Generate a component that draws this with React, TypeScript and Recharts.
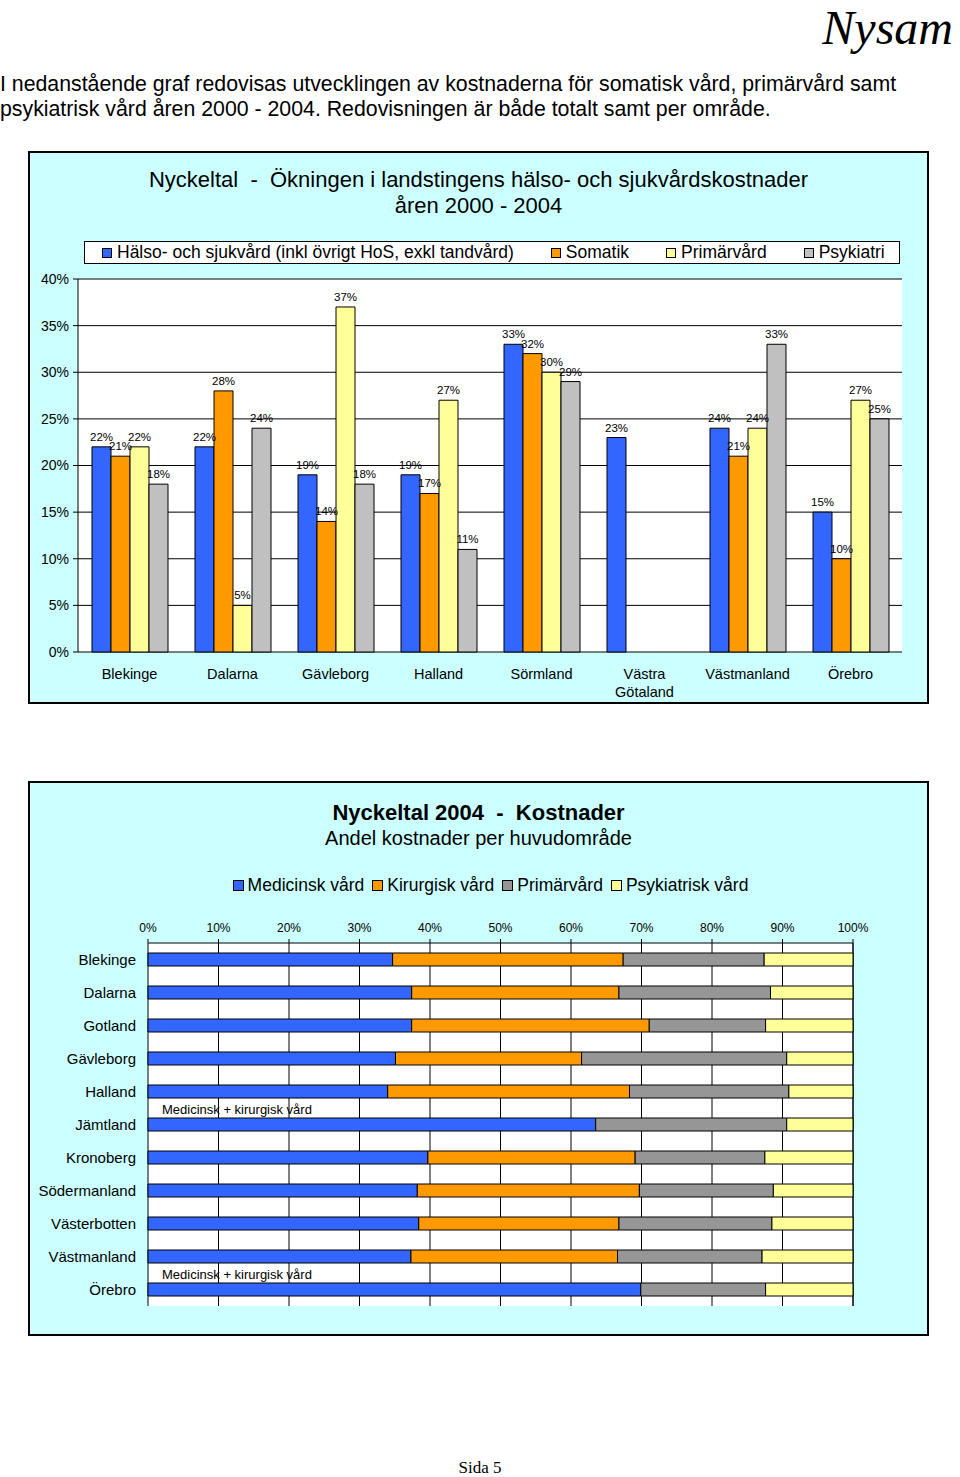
import React from 'react';
import { BarChart, Bar, XAxis, YAxis, CartesianGrid, LabelList } from 'recharts';

// Ökning 2000-2004 per landsting (procent)
const regions = ['Blekinge', 'Dalarna', 'Gävleborg', 'Halland', 'Sörmland', 'Västra Götaland', 'Västmanland', 'Örebro'];
const halsoOchSjukvard = [22, 22, 19, 19, 33, 23, 24, 15];
const somatik = [21, 28, 14, 17, 32, null, 21, 10];
const primarvard = [22, 5, 37, 27, 30, null, 24, 27];
const psykiatri = [18, 24, 18, 11, 29, null, 33, 25];
const growthTicks = [0, 5, 10, 15, 20, 25, 30, 35, 40];
const growthSeries = ['Hälso- och sjukvård (inkl övrigt HoS, exkl tandvård)', 'Somatik', 'Primärvård', 'Psykiatri'];

// Andel kostnader 2004 per huvudområde (procent)
const landsting = ['Blekinge', 'Dalarna', 'Gotland', 'Gävleborg', 'Halland', 'Jämtland', 'Kronoberg', 'Södermanland', 'Västerbotten', 'Västmanland', 'Örebro'];
const medicinsk = [34.7, 37.4, 37.4, 35.1, 34.0, 63.5, 39.7, 38.2, 38.4, 37.3, 69.9];
const kirurgisk = [32.7, 29.4, 33.7, 26.4, 34.3, 0, 29.4, 31.5, 28.4, 29.3, 0];
const primar2004 = [20.0, 21.5, 16.5, 29.1, 22.6, 27.1, 18.4, 19.0, 21.7, 20.5, 17.7];
const psykiatrisk = [12.6, 11.7, 12.4, 9.4, 9.1, 9.4, 12.5, 11.3, 11.5, 12.9, 12.4];
const notes = ['', '', '', '', '', 'Medicinsk + kirurgisk vård', '', '', '', '', 'Medicinsk + kirurgisk vård'];
const shareTicks = [0, 10, 20, 30, 40, 50, 60, 70, 80, 90, 100];
const shareSeries = ['Medicinsk vård', 'Kirurgisk vård', 'Primärvård', 'Psykiatrisk vård'];

const SANS = '"Liberation Sans", Arial, sans-serif';
const SERIF = '"Liberation Serif", "Times New Roman", serif';
const FRAME_BG = '#CCFFFF';
const growthColors = ['#3366FF', '#FF9900', '#FFFF99', '#C0C0C0'];
const shareColors = ['#3366FF', '#FF9900', '#969696', '#FFFF99'];

const growthData = regions.map((name, i) => ({
  name,
  halso: halsoOchSjukvard[i],
  somatik: somatik[i],
  primar: primarvard[i],
  psyk: psykiatri[i],
}));

const shareData = landsting.map((name, i) => ({
  name,
  med: medicinsk[i],
  kir: kirurgisk[i],
  prim: primar2004[i],
  psyk: psykiatrisk[i],
  note: notes[i],
}));

const pct = (v: number) => `${v}%`;
const noTick = () => <g />;

function RegionTick({ x, y, payload }: any) {
  const label = String(payload.value);
  const lines = label.length > 12 ? label.split(' ') : [label];
  return (
    <text x={x} y={y} textAnchor="middle" fontSize={14.5} fill="#000" fontFamily={SANS}>
      {lines.map((w, i) => (
        <tspan key={i} x={x} dy={i === 0 ? '0.71em' : '1.2em'}>{w}</tspan>
      ))}
    </text>
  );
}

function NoteLabel({ x, y, value }: any) {
  if (!value) return null;
  return (
    <text x={x + 14} y={y - 4} fontSize={13} fill="#000" fontFamily={SANS}>{value}</text>
  );
}

function LegendItem({ color, label, size, gap, fontSize }: { color: string; label: string; size: number; gap: number; fontSize: number }) {
  return (
    <div style={{ display: 'flex', alignItems: 'center' }}>
      <span style={{ width: size, height: size, background: color, border: '1px solid #000', boxSizing: 'border-box', marginRight: gap }} />
      <span style={{ fontSize, fontFamily: SANS, color: '#000', whiteSpace: 'nowrap' }}>{label}</span>
    </div>
  );
}

function GrowthChart() {
  return (
    <>
      <div style={{ position: 'absolute', left: 28, top: 151, width: 901, height: 553, background: FRAME_BG, border: '2px solid #000', boxSizing: 'border-box' }} />
      <div style={{ position: 'absolute', left: 28, top: 167, width: 901, textAlign: 'center', fontFamily: SANS, fontSize: 22, lineHeight: '26px', color: '#000' }}>
        Nyckeltal&nbsp; - &nbsp;Ökningen i landstingens hälso- och sjukvårdskostnader<br />åren 2000 - 2004
      </div>
      <div style={{ position: 'absolute', left: 84, top: 241, width: 816, height: 23, background: '#fff', border: '1.5px solid #000', boxSizing: 'border-box', display: 'flex', alignItems: 'center', paddingLeft: 17, gap: 37 }}>
        {growthSeries.map((s, i) => (
          <LegendItem key={s} color={growthColors[i]} label={s} size={10} gap={5} fontSize={17.5} />
        ))}
      </div>
      <div style={{ position: 'absolute', left: 28, top: 151 }}>
        <BarChart
          width={901}
          height={553}
          data={growthData}
          margin={{ top: 128, right: 27, bottom: 0, left: 0 }}
          barGap={0}
          barCategoryGap={14}
        >
          <CartesianGrid horizontal vertical={false} stroke="#000" fill="#fff" fillOpacity={1} />
          <XAxis xAxisId={0} type="number" domain={[0, 8]} ticks={[0, 1, 2, 3, 4, 5, 6, 7, 8]} allowDataOverflow height={0} tickSize={5} tick={noTick} interval={0} stroke="#000" />
          <XAxis xAxisId="cat" dataKey="name" height={52} tickSize={6} tickMargin={11} tickLine={false} axisLine={false} tick={<RegionTick />} interval={0} />
          <YAxis domain={[0, 40]} ticks={growthTicks} width={50} tickFormatter={pct} tickSize={5} tickMargin={4} stroke="#000" tick={{ fontSize: 14, fill: '#000', fontFamily: SANS }} />
          {(['halso', 'somatik', 'primar', 'psyk'] as const).map((k, i) => (
            <Bar key={k} xAxisId="cat" dataKey={k} fill={growthColors[i]} stroke="#000" strokeWidth={1} isAnimationActive={false}>
              <LabelList dataKey={k} position="top" offset={6} formatter={(v: any) => (v == null ? '' : `${v}%`)} style={{ fontSize: 11.5, fill: '#000', fontFamily: SANS }} />
            </Bar>
          ))}
        </BarChart>
      </div>
    </>
  );
}

function ShareChart() {
  return (
    <>
      <div style={{ position: 'absolute', left: 28, top: 781, width: 901, height: 555, background: FRAME_BG, border: '2px solid #000', boxSizing: 'border-box' }} />
      <div style={{ position: 'absolute', left: 28, top: 799, width: 901, textAlign: 'center', fontFamily: SANS, color: '#000' }}>
        <div style={{ fontSize: 22, fontWeight: 'bold', lineHeight: '27px' }}>Nyckeltal 2004&nbsp; - &nbsp;Kostnader</div>
        <div style={{ fontSize: 20, lineHeight: '24px' }}>Andel kostnader per huvudområde</div>
      </div>
      <div style={{ position: 'absolute', left: 28, top: 875, width: 901, display: 'flex', justifyContent: 'center', gap: 8, paddingLeft: 24, boxSizing: 'border-box' }}>
        {shareSeries.map((s, i) => (
          <LegendItem key={s} color={shareColors[i]} label={s} size={11} gap={4} fontSize={17.5} />
        ))}
      </div>
      <div style={{ position: 'absolute', left: 28, top: 781 }}>
        <BarChart
          layout="vertical"
          width={901}
          height={555}
          data={shareData}
          margin={{ top: 132, right: 76, bottom: 30, left: 0 }}
          barSize={13}
        >
          <CartesianGrid horizontal={false} vertical stroke="#000" fill="#fff" fillOpacity={1} />
          <XAxis type="number" orientation="top" domain={[0, 100]} ticks={shareTicks} height={30} tickSize={4} tickMargin={7} tickFormatter={pct} stroke="#000" tick={{ fontSize: 12, fill: '#000', fontFamily: SANS }} interval={0} />
          <YAxis yAxisId={0} type="number" domain={[0, 11]} ticks={[0, 1, 2, 3, 4, 5, 6, 7, 8, 9, 10, 11]} allowDataOverflow width={0} tickSize={4} tick={noTick} interval={0} stroke="#000" />
          <YAxis yAxisId="cat" type="category" dataKey="name" width={120} tickSize={8} tickMargin={4} tickLine={false} axisLine={false} interval={0} tick={{ fontSize: 15, fill: '#000', fontFamily: SANS }} />
          <Bar yAxisId="cat" dataKey="med" stackId="a" fill={shareColors[0]} stroke="#000" strokeWidth={1} isAnimationActive={false}>
            <LabelList dataKey="note" content={<NoteLabel />} />
          </Bar>
          <Bar yAxisId="cat" dataKey="kir" stackId="a" fill={shareColors[1]} stroke="#000" strokeWidth={1} isAnimationActive={false} />
          <Bar yAxisId="cat" dataKey="prim" stackId="a" fill={shareColors[2]} stroke="#000" strokeWidth={1} isAnimationActive={false} />
          <Bar yAxisId="cat" dataKey="psyk" stackId="a" fill={shareColors[3]} stroke="#000" strokeWidth={1} isAnimationActive={false} />
        </BarChart>
      </div>
    </>
  );
}

export default function App() {
  return (
    <div style={{ position: 'absolute', left: 0, top: 0, width: 960, height: 1477, background: '#fff', overflow: 'hidden' }}>
      <div style={{ position: 'absolute', right: 5, top: 0, fontFamily: SERIF, fontStyle: 'italic', fontSize: 48, lineHeight: '56px', color: '#000', paddingRight: 2 }}>Nysam</div>
      <div style={{ position: 'absolute', left: 0, top: 72, width: 960, fontFamily: SANS, fontSize: 21.3, lineHeight: '25px', color: '#000', whiteSpace: 'nowrap' }}>
        I nedanstående graf redovisas utvecklingen av kostnaderna för somatisk vård, primärvård samt<br />
        psykiatrisk vård åren 2000 - 2004. Redovisningen är både totalt samt per område.
      </div>
      <GrowthChart />
      <ShareChart />
      <div style={{ position: 'absolute', left: 0, top: 1458, width: 960, textAlign: 'center', fontFamily: SERIF, fontSize: 17, color: '#000' }}>Sida 5</div>
    </div>
  );
}
